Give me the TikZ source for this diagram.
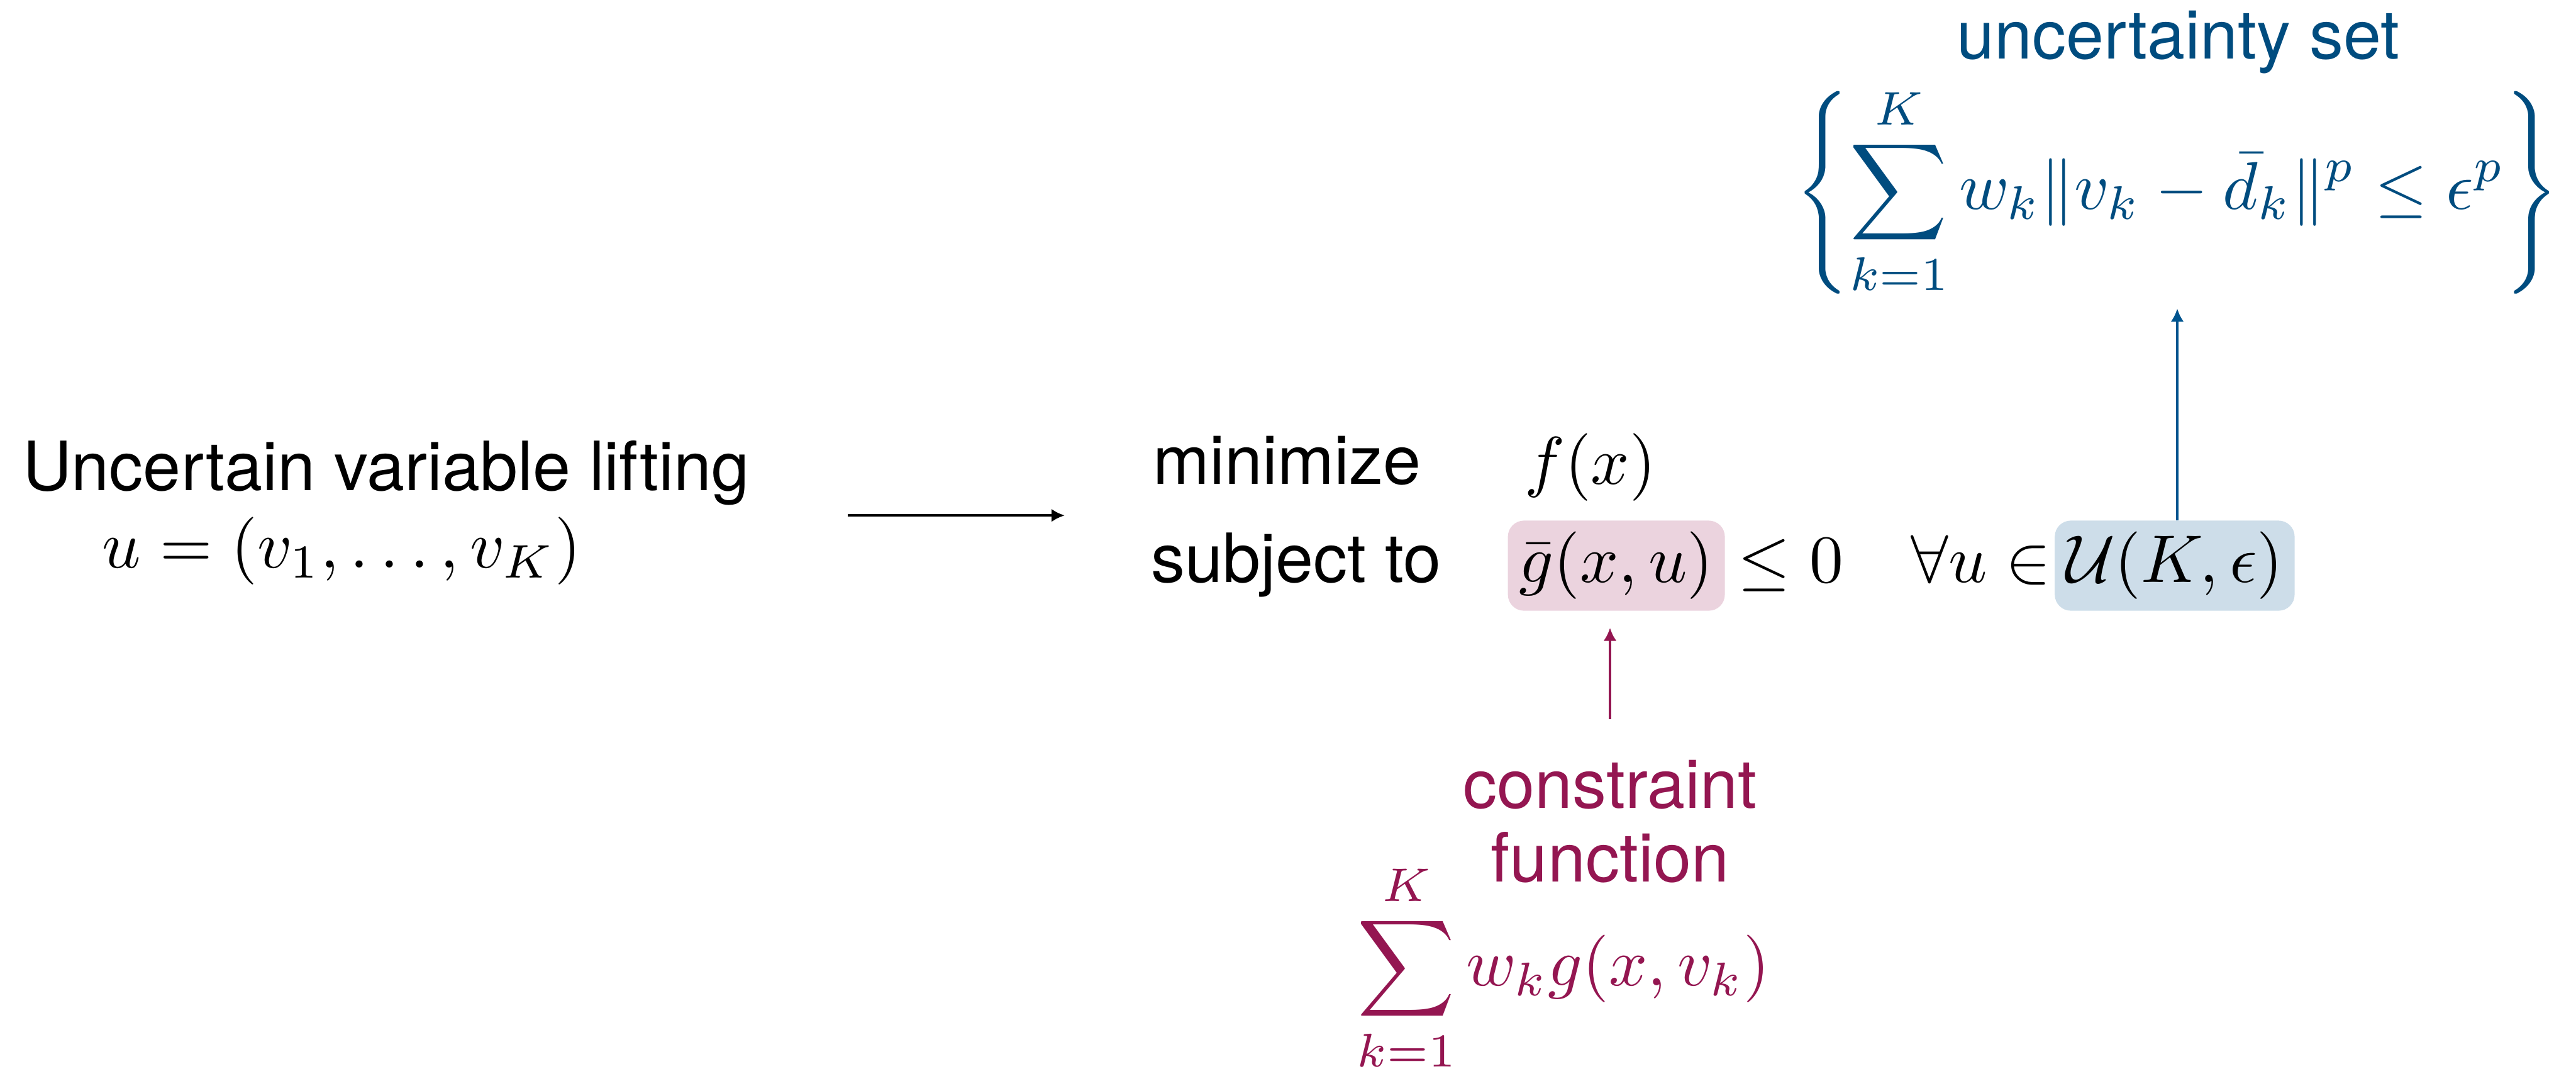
\documentclass[tikz,border=0pt]{standalone}
\usepackage{amsmath}
\usepackage{graphicx}
\usepackage[no-math]{fontspec}
\newfontfamily\helv{TeX Gyre Heros}
\usetikzlibrary{arrows.meta,positioning}
\definecolor{maroontxt}{HTML}{941651}
\definecolor{bluetxt}{HTML}{004C7F}
\definecolor{bluelink}{HTML}{00548F}
\definecolor{pinkfill}{HTML}{EBD3DE}
\definecolor{bluefill}{HTML}{CDDDE9}
% math set at 10pt and blown up, as on the slide
\newcommand{\slidemath}[1]{\scalebox{3.58}{\fontsize{10}{12}\selectfont$#1$}}
\begin{document}
\begin{tikzpicture}[
        every node/.style={inner sep=0pt, font=\helv\fontsize{36}{39}\selectfont},
        txt/.style={anchor=base west},
        hilite/.style={anchor=base west, rounded corners=0.3cm, inner sep=0.21cm},
        link/.style={-{Latex[length=7pt,width=7pt]}, line width=1.4pt},
    ]
    \useasboundingbox (0,0) rectangle (48,19.91);
    % lifting
    \node[txt](lift) at (0.42,10.78){Uncertain variable lifting};
    \node[txt](uvec) at (1.90,9.33){\slidemath{u=(v_1,\dots,v_K)}};
    \coordinate (liftout) at (15.80,10.31);
    \coordinate (probin) at (19.84,10.31);
    \draw[link] (liftout) -- (probin);
    % robust problem
    \node[txt](minw) at (21.48,10.89){minimize};
    \node[txt](obj) at (28.40,10.89){\slidemath{f(x)}};
    \node[txt](st) at (21.44,9.06){subject to};
    \node[hilite, fill=pinkfill](gbar) at (28.09,9.06){\slidemath{\bar g(x,u)}};
    \node[txt](leq) at (32.38,9.06){\slidemath{\leq 0}};
    \node[txt](forall) at (35.60,9.06){\slidemath{\forall u\in}};
    \node[hilite, fill=bluefill](uset) at (38.28,9.06){\slidemath{\mathcal{U}(K,\epsilon)}};
    % uncertainty set
    \node[anchor=base, text=bluetxt](usetttl) at (40.59,18.81){uncertainty set};
    \node[anchor=base, text=bluetxt](usetdef) at (40.57,16.01){\slidemath{\displaystyle\left\{\sum_{k=1}^{K} w_k\|v_k-\bar{d}_k\|^p\leq\epsilon^p\right\}}};
    \draw[link, bluelink, shorten >=0.2cm] (usetdef.south |- uset.north) -- (usetdef.south);
    % constraint function
    \node[anchor=base, align=center, text=maroontxt](cfun) at (30.0,3.49){constraint\\function};
    \node[anchor=base, text=maroontxt](gsum) at (29.13,1.55){\slidemath{\displaystyle\sum_{k=1}^{K} w_k g(x,v_k)}};
    \draw[link, maroontxt, shorten <=0.75cm, shorten >=0.31cm] (cfun.north) -- (cfun.north |- gbar.south);
\end{tikzpicture}
\end{document}
